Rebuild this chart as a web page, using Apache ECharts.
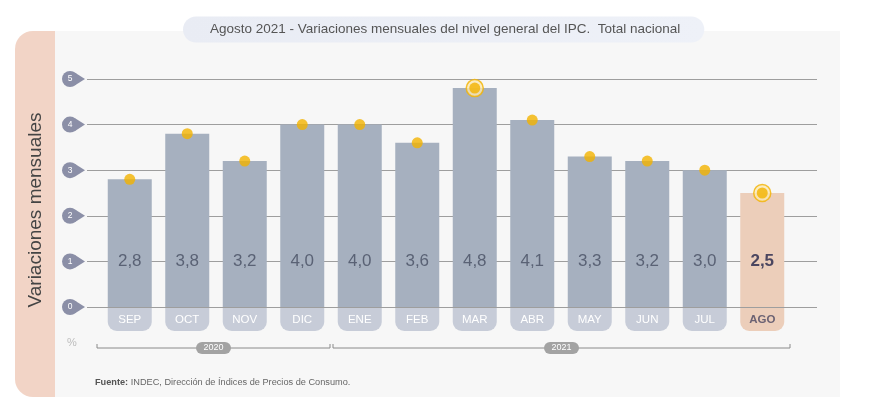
<!DOCTYPE html>
<html><head><meta charset="utf-8">
<script src="https://cdn.jsdelivr.net/npm/echarts@6/dist/echarts.min.js"></script>
<style>html,body{margin:0;padding:0;background:#fff}#c{width:872px;height:399px}</style>
</head><body><div id="c"></div>
<script>
const months = ['SEP','OCT','NOV','DIC','ENE','FEB','MAR','ABR','MAY','JUN','JUL','AGO'];
const values = [2.8, 3.8, 3.2, 4.0, 4.0, 3.6, 4.8, 4.1, 3.3, 3.2, 3.0, 2.5];
const highlighted = ['MAR','AGO'];
const currentMonth = 'AGO';
const yTicks = [0, 1, 2, 3, 4, 5];
const yearGroups = [[0, 3, '2020'], [4, 11, '2021']];
const titleText = 'Agosto 2021 - Variaciones mensuales del nivel general del IPC.  Total nacional';
const yName = 'Variaciones mensuales';
const sourceLabel = 'Fuente:';
const sourceText = ' INDEC, Dirección de Índices de Precios de Consumo.';

const FONT = 'Liberation Sans, Arial, Helvetica, sans-serif';
const fmt = v => v.toFixed(1).replace('.', ',');
const chart = echarts.init(document.getElementById('c'), null, {renderer: 'canvas'});

const barData = values.map((v, i) => months[i] === currentMonth
  ? {value: v, itemStyle: {color: '#ecceba'}, label: {color: '#4b4660', fontWeight: 'bold'}}
  : v);
const ringData = values.map((v, i) => highlighted.includes(months[i]) ? v : '-');
const dotData = values.map((v, i) => highlighted.includes(months[i]) ? {value: v, symbolSize: 11} : v);

chart.setOption({
  animation: false,
  backgroundColor: '#ffffff',
  textStyle: {fontFamily: FONT},
  title: {
    text: titleText, left: 183, top: 17,
    padding: [6, 24, 6, 27], borderRadius: 13,
    backgroundColor: new echarts.graphic.LinearGradient(0, 0, 1, 0, [
      {offset: 0, color: '#e9ecf4'}, {offset: 1, color: '#eef1f8'}]),
    textStyle: {fontFamily: FONT, fontSize: 13.5, fontWeight: 'normal', color: '#555', lineHeight: 13}
  },
  graphic: [
    {type: 'rect', z: -10, silent: true, shape: {x: 15, y: 31, width: 60, height: 366, r: [18, 0, 0, 18]}, style: {fill: '#f2d4c6'}},
    {type: 'rect', z: -9, silent: true, shape: {x: 55, y: 31, width: 785, height: 366}, style: {fill: '#f7f7f7'}},
    {type: 'text', z: 5, x: 36, y: 210, rotation: Math.PI / 2,
      style: {text: yName, fill: '#444', font: '19px ' + FONT, textAlign: 'center', textVerticalAlign: 'middle'}},
    {type: 'text', z: 5, x: 72, y: 343,
      style: {text: '%', fill: '#bdbdbd', font: '11px ' + FONT, textAlign: 'center', textVerticalAlign: 'middle'}},
    {type: 'text', z: 5, x: 95, y: 382,
      style: {text: '{b|' + sourceLabel + '}{n|' + sourceText + '}', textVerticalAlign: 'middle',
        rich: {b: {fontWeight: 'bold', fontSize: 9.2, fill: '#555', fontFamily: FONT},
               n: {fontSize: 9.2, fill: '#666', fontFamily: FONT}}}}
  ],
  grid: [
    {left: 87, right: 55, top: 79, bottom: 92},
    {left: 101, right: 81, top: 79, bottom: 92}
  ],
  xAxis: [
    {gridIndex: 0, type: 'value', min: 0, max: 1, show: false},
    {gridIndex: 1, type: 'category', data: months,
      axisLine: {show: false}, axisTick: {show: false},
      axisLabel: {
        margin: 1, interval: 0,
        formatter: v => v === currentMonth ? '{h|' + v + '}' : '{m|' + v + '}',
        rich: {
          m: {width: 44, height: 23, lineHeight: 23, align: 'center', backgroundColor: '#c7ccd8',
              borderRadius: [0, 0, 9, 9], color: '#fff', fontSize: 11.5, fontFamily: FONT},
          h: {width: 44, height: 23, lineHeight: 23, align: 'center', backgroundColor: '#ecceba',
              borderRadius: [0, 0, 9, 9], color: '#6b6273', fontSize: 11.5, fontWeight: 'bold', fontFamily: FONT}
        }
      }}
  ],
  yAxis: [
    {gridIndex: 0, type: 'value', min: 0, max: 5, interval: 1,
      axisLine: {show: false}, axisTick: {show: false}, axisLabel: {show: false},
      splitLine: {show: true, lineStyle: {color: '#9e9e9e', width: 1}}},
    {gridIndex: 1, type: 'value', min: 0, max: 5, interval: 1, show: false, splitLine: {show: false}}
  ],
  series: [
    {
      type: 'custom', xAxisIndex: 0, yAxisIndex: 0, clip: false, z: 5,
      data: yTicks.map(v => [0, v]),
      encode: {x: 0, y: 1},
      renderItem: (params, api) => {
        const p = api.coord([0, api.value(1)]);
        const cx = p[0] - 17, cy = p[1], r = 8;
        return {type: 'group', children: [
          {type: 'polygon', shape: {points: [[cx + 4.3, cy - 6.8], [p[0] - 2, cy], [cx + 4.3, cy + 6.8]]}, style: {fill: '#8b8fa7'}},
          {type: 'circle', shape: {cx: cx, cy: cy, r: r}, style: {fill: '#8b8fa7'}},
          {type: 'text', x: cx, y: cy, style: {text: String(api.value(1)), fill: '#fff', font: '8.5px ' + FONT, textAlign: 'center', textVerticalAlign: 'middle'}}
        ]};
      }
    },
    {
      type: 'bar', xAxisIndex: 1, yAxisIndex: 1, barWidth: 44, z: 2,
      itemStyle: {color: '#a6b0bf'},
      label: {show: true, position: 'insideBottom', distance: 37, formatter: p => fmt(p.value),
        fontSize: 17, color: '#5a6275', fontFamily: FONT},
      data: barData
    },
    {
      type: 'scatter', xAxisIndex: 1, yAxisIndex: 1, symbol: 'circle', symbolSize: 17, z: 3, clip: false,
      itemStyle: {color: '#fbe8b3', borderColor: '#f2b300', borderWidth: 1.5},
      data: ringData
    },
    {
      type: 'scatter', xAxisIndex: 1, yAxisIndex: 1, symbol: 'circle', symbolSize: 11, z: 4, clip: false,
      itemStyle: {color: '#f2b300'},
      data: dotData
    },
    {
      type: 'custom', xAxisIndex: 1, yAxisIndex: 1, clip: false, z: 5,
      data: yearGroups,
      encode: {x: [0, 1]},
      renderItem: (params, api) => {
        const s = api.value(0), e = api.value(1), label = yearGroups[params.dataIndex][2];
        const bw = api.size([1, 0])[0];
        const a = api.coord([s, 0]), b = api.coord([e, 0]);
        const x1 = a[0] - bw / 2 + (s === 0 ? -4 : 2), x2 = b[0] + bw / 2 - 1;
        const y = a[1] + 41;
        const mid = (x1 + x2) / 2;
        const ls = {stroke: '#8a8a8a', lineWidth: 1};
        return {type: 'group', children: [
          {type: 'polyline', shape: {points: [[x1, y - 4], [x1, y], [x2, y], [x2, y - 4]]}, style: Object.assign({fill: null}, ls)},
          {type: 'rect', shape: {x: mid - 17.5, y: y - 6, width: 35, height: 12, r: 6}, style: {fill: '#a3a3a3'}},
          {type: 'text', x: mid, y: y, style: {text: label, fill: '#fff', font: '9px ' + FONT, textAlign: 'center', textVerticalAlign: 'middle'}}
        ]};
      }
    }
  ]
});
</script></body></html>
